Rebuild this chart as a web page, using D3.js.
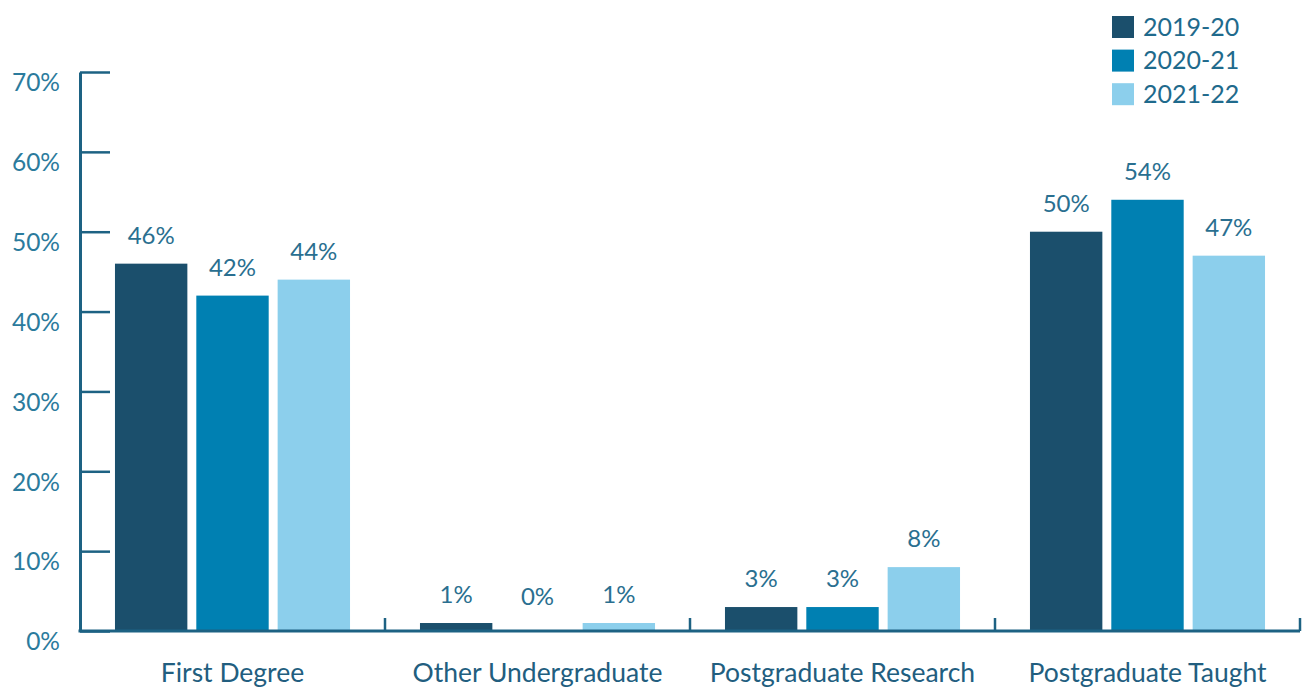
<!DOCTYPE html>
<html>
<head>
<meta charset="utf-8">
<script src="https://cdn.jsdelivr.net/npm/d3@7"></script>
<style>
  html, body { margin: 0; padding: 0; background: #ffffff; }
  svg { display: block; font-family: Lato, "Open Sans", sans-serif; }
</style>
</head>
<body>
<svg id="chart" width="1306" height="689"></svg>
<script>
// Share of students by level of study, per academic year
const categories = ["First Degree", "Other Undergraduate", "Postgraduate Research", "Postgraduate Taught"];
const years = ["2019-20", "2020-21", "2021-22"];
const values2019 = [46, 1, 3, 50];
const values2020 = [42, 0, 3, 54];
const values2021 = [44, 1, 8, 47];
const yTicks = [0, 10, 20, 30, 40, 50, 60, 70];
const colours = ["#1b4f6c", "#0080b2", "#8ccfec"];

const series = [values2019, values2020, values2021];
const rows = categories.map((c, i) => ({
  category: c,
  bars: years.map((yr, j) => ({ year: yr, value: series[j][i] }))
}));

const svg = d3.select("#chart");
const axisColour = "#1d6283";

const x0 = d3.scaleBand().domain(categories).range([80, 1300]).padding(0);
const x1 = d3.scaleBand().domain(years).range([0, x0.bandwidth()])
  .paddingInner(0.11).paddingOuter(0.43);
const y = d3.scaleLinear().domain([0, 70]).range([631, 72]);
const colour = d3.scaleOrdinal().domain(years).range(colours);

// bars
const groups = svg.append("g").selectAll("g").data(rows).join("g")
  .attr("transform", d => `translate(${x0(d.category)},0)`);

groups.selectAll("rect").data(d => d.bars).join("rect")
  .attr("x", d => x1(d.year))
  .attr("y", d => y(d.value))
  .attr("width", x1.bandwidth())
  .attr("height", d => y(0) - y(d.value))
  .attr("fill", d => colour(d.year));

// value labels above bars
groups.selectAll("text").data(d => d.bars).join("text")
  .attr("x", d => x1(d.year) + x1.bandwidth() / 2)
  .attr("y", d => y(d.value) - (d.value === 0 ? 26 : 20))
  .attr("text-anchor", "middle")
  .attr("font-size", 24)
  .attr("fill", "#2a6f90")
  .text(d => d.value + "%");

// y axis: ticks pointing inward, labels sitting just below each tick
const yAxis = svg.append("g")
  .attr("transform", "translate(80,0)")
  .call(d3.axisLeft(y).tickValues(yTicks).tickFormat(d => d + "%")
    .tickSizeInner(-30).tickSizeOuter(0).tickPadding(20));
yAxis.select(".domain").attr("stroke", axisColour).attr("stroke-width", 3);
yAxis.selectAll(".tick line").attr("stroke", axisColour).attr("stroke-width", 2.5);
yAxis.selectAll(".tick text")
  .attr("font-size", 24.5)
  .attr("font-family", "Lato, sans-serif")
  .attr("fill", "#2b7b9d")
  .attr("y", 11);

// x axis: baseline with short upward ticks at category boundaries
const xAxis = svg.append("g").attr("transform", `translate(0,${y(0)})`);
xAxis.append("line")
  .attr("x1", x0.range()[0] - 1.5).attr("x2", x0.range()[1])
  .attr("stroke", axisColour).attr("stroke-width", 3);
const boundaries = categories.map(c => x0(c) + x0.step());
xAxis.selectAll("line.bound").data(boundaries).join("line")
  .attr("class", "bound")
  .attr("x1", d => d).attr("x2", d => d)
  .attr("y1", 0).attr("y2", -13)
  .attr("stroke", axisColour).attr("stroke-width", 2.5);

xAxis.selectAll("text.cat").data(categories).join("text")
  .attr("class", "cat")
  .attr("x", d => x0(d) + x0.bandwidth() / 2)
  .attr("y", 51)
  .attr("text-anchor", "middle")
  .attr("font-size", 26.5)
  .attr("fill", "#225e7f")
  .text(d => d);

// legend
const legend = svg.append("g").attr("transform", "translate(1112,16)");
const item = legend.selectAll("g").data(years).join("g")
  .attr("transform", (d, i) => `translate(0,${i * 33.6})`);
item.append("rect")
  .attr("width", 22).attr("height", 22)
  .attr("fill", d => colour(d));
item.append("text")
  .attr("x", 31).attr("y", 11).attr("dy", "0.35em")
  .attr("font-size", 25)
  .attr("fill", "#1f6a8c")
  .text(d => d);
</script>
</body>
</html>
